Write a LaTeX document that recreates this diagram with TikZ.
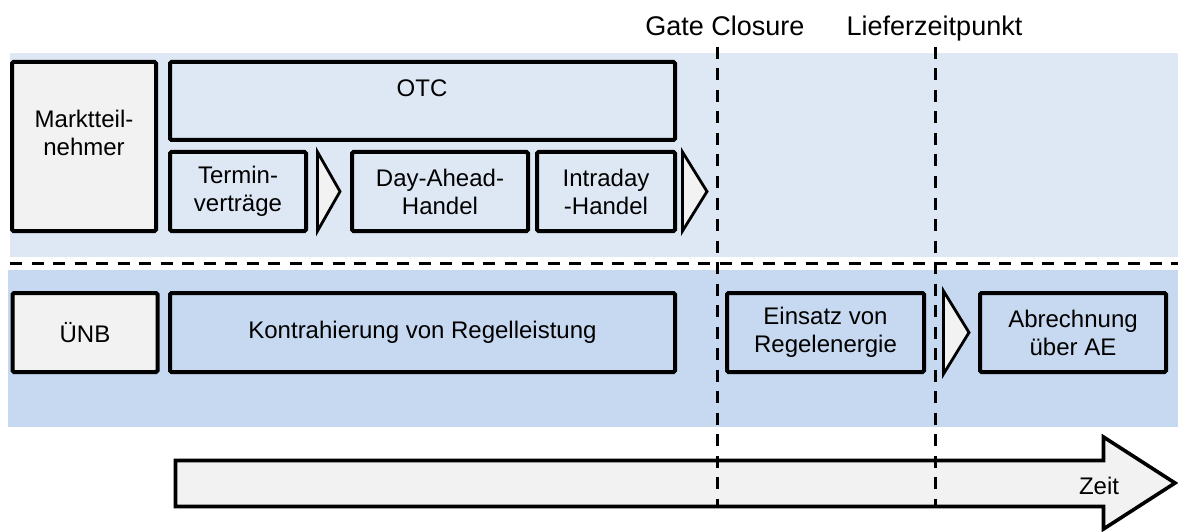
\documentclass[tikz,border=0pt]{standalone}
\usepackage{fontspec}
\setmainfont{Liberation Sans}
\usetikzlibrary{calc}
\definecolor{bandA}{HTML}{DEE8F5}
\definecolor{bandB}{HTML}{C6D9F0}
\definecolor{greyfill}{HTML}{F2F2F2}
\begin{document}
\begin{tikzpicture}[x=1pt,y=-1pt,
  boxtext/.style={inner sep=0pt, align=center, font=\fontsize{24}{28}\selectfont},
  box/.style={boxtext, draw=black, line width=4pt, rounded corners=1.5pt},
  lightbox/.style={box, fill=bandA},
  darkbox/.style={box, fill=bandB},
  greybox/.style={box, fill=greyfill},
  chevron/.style={draw=black, line width=2.8pt, fill=greyfill, line join=miter},
  divider/.style={draw=black, line width=3pt, dash pattern=on 12pt off 9.5pt},
  toplabel/.style={anchor=base, inner sep=0pt, font=\fontsize{27}{30}\selectfont}]
\useasboundingbox (0,0) rectangle (1178,532);
% bands
\fill[bandA] (10,53) rectangle (1178,257);
\fill[bandB] (8,270) rectangle (1178,427);
% horizontal divider
\coordinate (hl) at (10,263);
\coordinate (hr) at (1178,263);
\draw[divider] (hl) -- (hr);
% top row
\node[greybox, minimum width=144pt, minimum height=169pt] (markt) at (84,146.5) {};
\node[boxtext] (markttext) at (84,133) {Marktteil-\\nehmer};
\node[lightbox, minimum width=505pt, minimum height=78pt] (otc) at (422.5,101) {};
\node[boxtext] (otctext) at (422,88) {OTC};
\node[lightbox, minimum width=136pt, minimum height=79pt] (termin) at (238,191.5) {Termin-\\verträge};
\node[lightbox, minimum width=176pt, minimum height=79pt] (dayahead) at (440,191.5) {Day-Ahead-\\Handel};
\node[lightbox, minimum width=138pt, minimum height=79pt] (intraday) at (606,191.5) {Intraday\\-Handel};
\draw[chevron] ($(termin.north east)+(9.5,2)$) -- ($(termin.east)+(32,0)$) -- ($(termin.south east)+(9.5,-2)$) -- cycle;
\draw[chevron] ($(intraday.north east)+(5.5,2)$) -- ($(intraday.east)+(30,0)$) -- ($(intraday.south east)+(5.5,-2)$) -- cycle;
% bottom row
\node[greybox, minimum width=145pt, minimum height=79pt] (unb) at (85,332.5) {ÜNB};
\node[darkbox, minimum width=505pt, minimum height=79pt] (kontra) at (422.5,332.5) {Kontrahierung von Regelleistung};
\node[darkbox, minimum width=197pt, minimum height=79pt] (einsatz) at (825.5,332.5) {Einsatz von\\Regelenergie};
\node[darkbox, minimum width=186pt, minimum height=79pt] (abr) at (1073,332.5) {Abrechnung\\über AE};
\draw[chevron] ($(einsatz.north east)+(17.5,0)$) -- ($(einsatz.east)+(43,0)$) -- ($(einsatz.south east)+(17.5,0)$) -- cycle;
% time arrow
\draw[line width=3.6pt, fill=greyfill, line join=miter] (175.5,460.5) -- (1103.5,460.5) -- (1103.5,437) -- (1175,483) -- (1103.5,529) -- (1103.5,506.5) -- (175.5,506.5) -- cycle;
\node[boxtext] (zeit) at (1099,486) {Zeit};
% vertical dividers
\coordinate (gctop) at (717,47);
\coordinate (gcbot) at (717,508);
\coordinate (lztop) at (935,47);
\coordinate (lzbot) at (935,508);
\draw[divider] (gctop) -- (gcbot);
\draw[divider] (lztop) -- (lzbot);
\node[toplabel] (gc) at (725,36) {Gate Closure};
\node[toplabel] (lz) at (934.5,36) {Lieferzeitpunkt};
\end{tikzpicture}
\end{document}
